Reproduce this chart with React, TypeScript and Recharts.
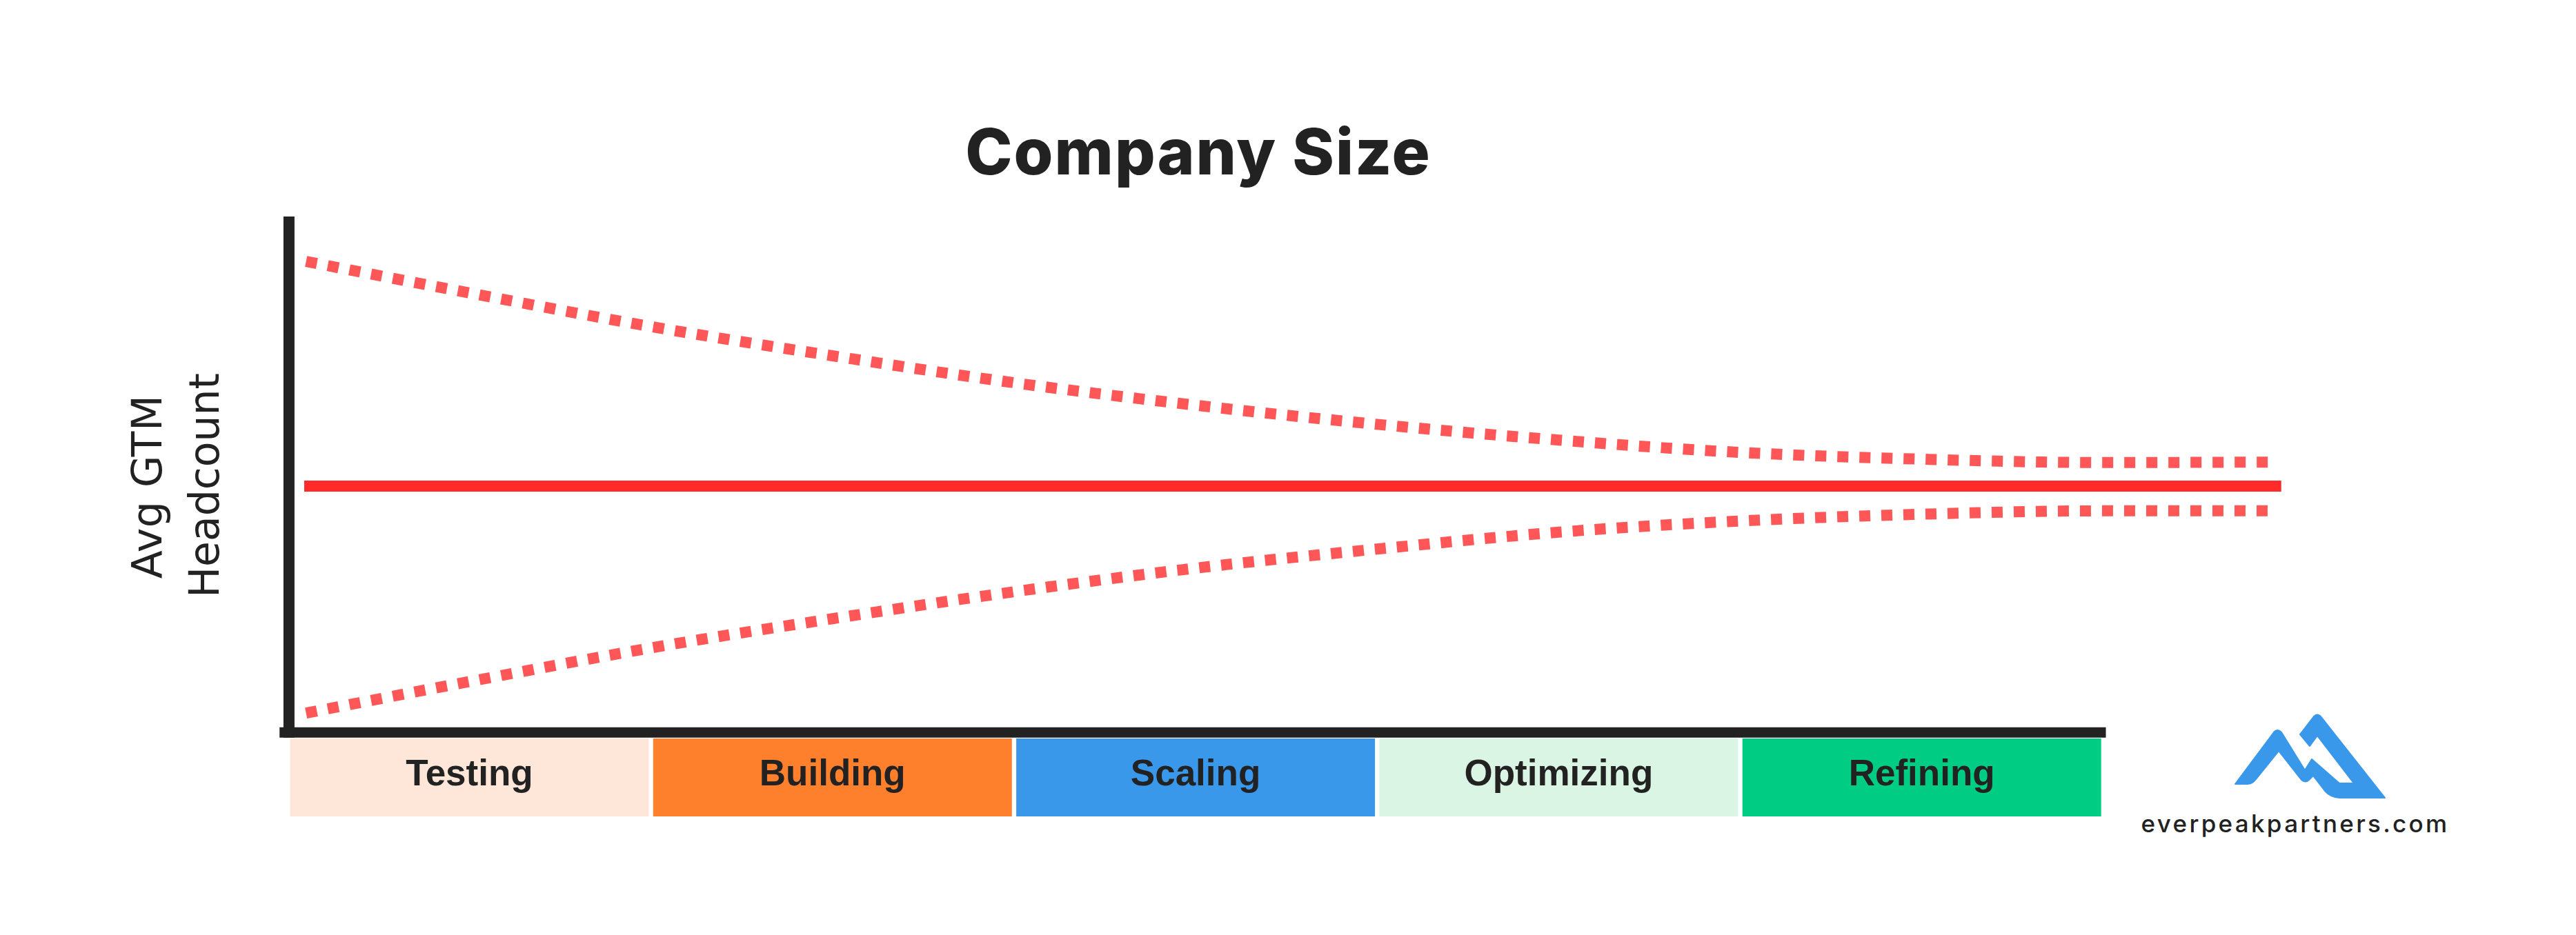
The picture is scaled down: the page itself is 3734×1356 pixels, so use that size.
import { LineChart, Line, XAxis, YAxis, ReferenceLine, ReferenceArea } from "recharts"

// stage bands under the x axis
const stages = ["Testing", "Building", "Scaling", "Optimizing", "Refining"]
const stageColors = ["#FEE6D8", "#FF802C", "#3A98EA", "#DAF5E4", "#00CD84"]

// x is measured in stages (0 = start of Testing, 5 = end of Refining)
const boundX = [0.05, 0.5, 1, 1.5, 2, 2.5, 3, 3.5, 4, 4.5, 5, 5.47]
const upperBound = [100, 86, 71, 58, 46, 36, 27.5, 20.5, 15, 12, 10.5, 10.7]
const lowerBound = [-101, -87, -72, -59, -47, -36.5, -28, -20.5, -15.5, -12.5, -11, -11]

const avgX = [0.045, 5.49]
const avgHeadcount = [0, 0]

const upperData = boundX.map((x, i) => ({ x, v: upperBound[i] }))
const lowerData = boundX.map((x, i) => ({ x, v: lowerBound[i] }))
const avgData = avgX.map((x, i) => ({ x, v: avgHeadcount[i] }))

const W = 3734
const H = 1356
const Y_MAX = 120
const Y_MIN = -147
const AXIS_Y = -109.6
const BAND_TOP = -112.3

const dark = "#222222"

function StageLabel(props: any) {
  const { viewBox, value } = props
  if (!viewBox) return null
  return (
    <text
      x={viewBox.x + viewBox.width / 2}
      y={viewBox.y + 68}
      textAnchor="middle"
      fill={dark}
      fontFamily="'Liberation Sans', Arial, sans-serif"
      fontWeight={700}
      fontSize={53}
    >
      {value}
    </text>
  )
}

export default function App() {
  return (
    <div style={{ position: "relative", width: W, height: H, background: "#fff" }}>
      <style>{`body{margin:0}`}</style>
      <LineChart
        width={W}
        height={H}
        margin={{ top: 314, right: 422, bottom: 172, left: 391 }}
      >
        <XAxis dataKey="x" type="number" domain={[-0.05, 5.5]} allowDataOverflow hide />
        <YAxis type="number" domain={[Y_MIN, Y_MAX]} allowDataOverflow hide />

        {stages.map((s, i) => (
          <ReferenceArea
            key={s}
            x1={i + 0.006}
            x2={i + 0.994}
            y1={BAND_TOP}
            y2={Y_MIN}
            fill={stageColors[i]}
            fillOpacity={1}
            stroke="none"
            label={<StageLabel value={s} />}
          />
        ))}

        <ReferenceLine
          segment={[{ x: 0.003, y: Y_MAX }, { x: 0.003, y: -111.9 }]}
          stroke={dark}
          strokeWidth={16}
        />
        <ReferenceLine
          segment={[{ x: -0.023, y: AXIS_Y }, { x: 5.007, y: AXIS_Y }]}
          stroke={dark}
          strokeWidth={15}
        />

        <Line
          data={upperData}
          dataKey="v"
          type="monotone"
          stroke="#FF5757"
          strokeWidth={16}
          strokeDasharray="16 16"
          dot={false}
          activeDot={false}
          isAnimationActive={false}
        />
        <Line
          data={lowerData}
          dataKey="v"
          type="monotone"
          stroke="#FF5757"
          strokeWidth={16}
          strokeDasharray="16 16"
          dot={false}
          activeDot={false}
          isAnimationActive={false}
        />
        <Line
          data={avgData}
          dataKey="v"
          type="linear"
          stroke="#FF2B2B"
          strokeWidth={16}
          dot={false}
          activeDot={false}
          isAnimationActive={false}
        />
      </LineChart>

      <svg
        width={W}
        height={H}
        style={{ position: "absolute", left: 0, top: 0, pointerEvents: "none" }}
      >
        <text
          x={1737}
          y={253}
          textAnchor="middle"
          fill={dark}
          fontFamily="Inter, sans-serif"
          fontWeight={800}
          fontSize={92}
          letterSpacing={2}
        >
          Company Size
        </text>
        <text
          transform="translate(234,706) rotate(-90)"
          textAnchor="middle"
          fill={dark}
          fontFamily="'DejaVu Sans', sans-serif"
          fontSize={60}
          letterSpacing={0.5}
        >
          Avg GTM
        </text>
        <text
          transform="translate(317,704) rotate(-90)"
          textAnchor="middle"
          fill={dark}
          fontFamily="'DejaVu Sans', sans-serif"
          fontSize={60}
        >
          Headcount
        </text>

        {/* logo */}
        <path
          d="M3240 1137 L3296 1062 Q3301 1056 3307 1062 L3341 1117 L3351 1101 L3391 1136 L3412 1136 L3359 1067 L3348 1082 L3334 1065 L3354 1039 Q3359 1034 3364 1039 L3457 1157 L3391 1157 Q3378 1156 3370 1147 L3353 1125 L3347 1131 Q3342 1136 3336 1131 L3303 1089 L3270 1130 Q3265 1137 3258 1137 Z"
          fill="#3A98EA"
          stroke="#3A98EA"
          strokeWidth={2}
          strokeLinejoin="round"
        />
        <text
          x={3327}
          y={1207}
          textAnchor="middle"
          fill={dark}
          fontFamily="Inter, sans-serif"
          fontWeight={500}
          fontSize={35}
          letterSpacing={3.3}
        >
          everpeakpartners.com
        </text>
      </svg>
    </div>
  )
}
